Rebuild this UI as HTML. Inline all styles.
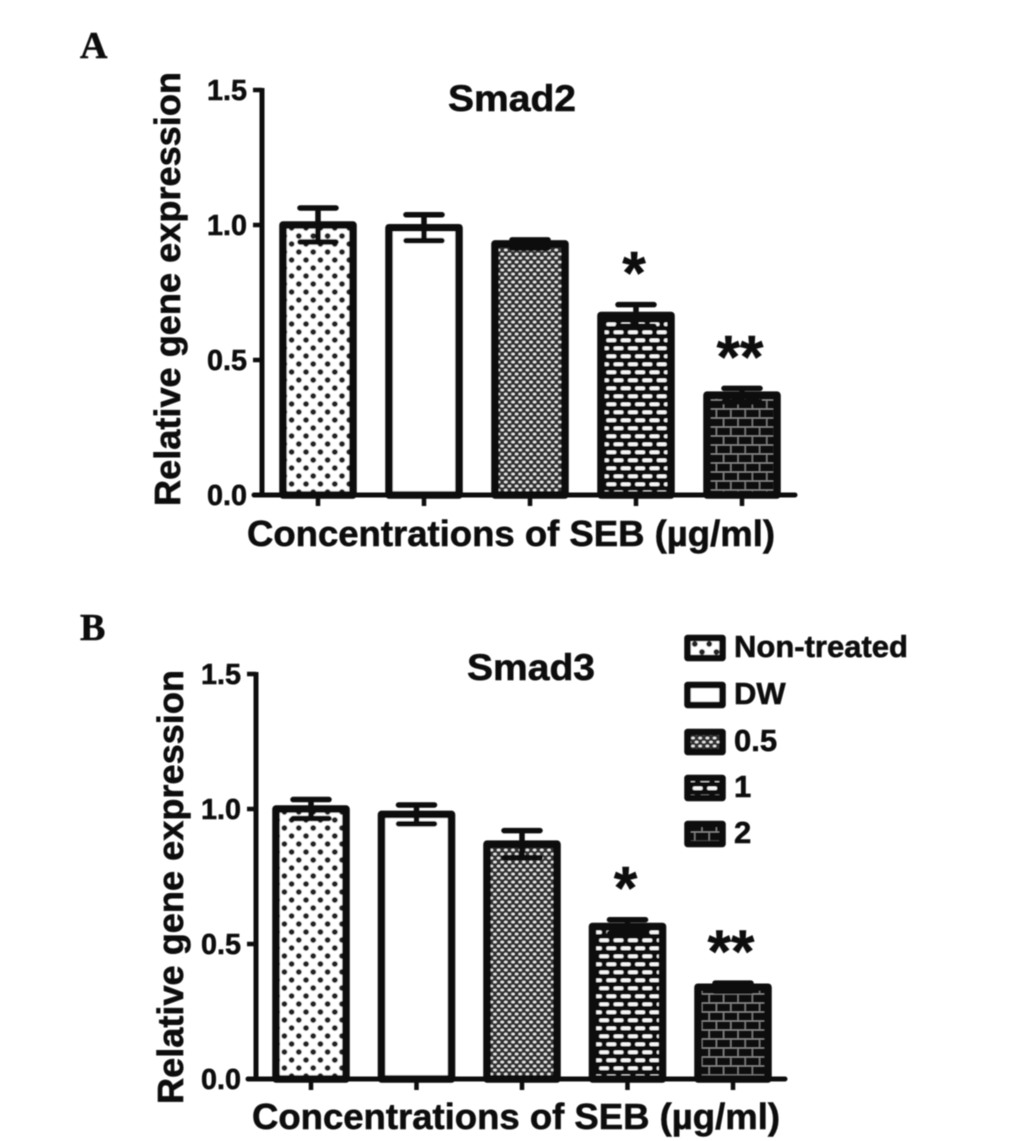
<!DOCTYPE html>
<html>
<head>
<meta charset="utf-8">
<style>
html,body{margin:0;padding:0;background:#fff}
svg{display:block}
text{font-family:"Liberation Sans",sans-serif;font-weight:bold;fill:#0a0a0a;stroke:#0a0a0a;stroke-width:0.55px}
</style>
</head>
<body>
<svg id="chart" xmlns="http://www.w3.org/2000/svg" width="1033" height="1141" viewBox="0 0 1033 1141">
  <defs>
    <filter id="soft" x="-5%" y="-5%" width="110%" height="110%"><feGaussianBlur stdDeviation="0.6"/></filter>
    <pattern id="pat-non-treated" patternUnits="userSpaceOnUse" width="14.4" height="16">
      <rect width="14.4" height="16" fill="#fff"/>
      <circle cx="3.6" cy="4" r="2.9" fill="#222"/><circle cx="10.8" cy="12" r="2.9" fill="#222"/>
    </pattern>
    <pattern id="pat-dw" patternUnits="userSpaceOnUse" width="10" height="10">
      <rect width="10" height="10" fill="#fff"/>
    </pattern>
    <pattern id="pat-half" patternUnits="userSpaceOnUse" width="7.2" height="8">
      <rect width="7.2" height="8" fill="#333"/>
      <ellipse cx="1.8" cy="2" rx="1.8" ry="1.3" fill="#eee"/><ellipse cx="5.4" cy="6" rx="1.8" ry="1.3" fill="#eee"/>
    </pattern>
    <pattern id="pat-one" patternUnits="userSpaceOnUse" width="14.4" height="16">
      <rect width="14.4" height="16" fill="#0a0a0a"/>
      <rect x="1.5" y="2.5" width="10" height="3.6" rx="1.7" fill="#f6f6f6"/>
      <rect x="8.7" y="10.5" width="10" height="3.6" rx="1.7" fill="#f6f6f6"/>
      <rect x="-5.7" y="10.5" width="10" height="3.6" rx="1.7" fill="#f6f6f6"/>
    </pattern>
    <pattern id="pat-two" patternUnits="userSpaceOnUse" width="14.4" height="18">
      <rect width="14.4" height="18" fill="#0c0c0c"/>
      <path d="M0 4H14.4M0 13H14.4M3.6 4V13M10.8 0V4M10.8 13V18" stroke="#8c8c8c" stroke-width="1.2" fill="none"/>
    </pattern>
  </defs>
  <g id="art" filter="url(#soft)"></g>
</svg>
<script>
const groups = ["Non-treated", "DW", "0.5", "1", "2"];
const smad2Values = [1.0, 0.99, 0.93, 0.665, 0.37];
const smad2Errors = [0.063, 0.048, 0.015, 0.04, 0.025];
const smad3Values = [1.0, 0.98, 0.87, 0.565, 0.34];
const smad3Errors = [0.035, 0.035, 0.05, 0.025, 0.015];
const tickLabels = ["0.0", "0.5", "1.0", "1.5"];
const tickValues = [0, 0.5, 1.0, 1.5];
const significance = ["", "", "", "*", "**"];
const patternIds = ["pat-non-treated", "pat-dw", "pat-half", "pat-one", "pat-two"];

const art = document.getElementById('art');
const NS = 'http://www.w3.org/2000/svg';
function make(parent, tag, attrs, txt) {
  const el = document.createElementNS(NS, tag);
  for (const k in attrs) el.setAttribute(k, attrs[k]);
  if (txt !== undefined) el.textContent = txt;
  parent.appendChild(el);
  return el;
}
function drawPanel(cfg, values, errors) {
  const g = make(art, 'g', {});
  
  
  const y = v => cfg.y0 - v * cfg.scale;
  const x = i => cfg.x1 + cfg.step * i;
  const stroke = {stroke: '#0a0a0a', 'stroke-width': 5.5, 'stroke-linecap': 'round', fill: 'none'};

  values.forEach((v, i) => {
    const top = y(v), cx = x(i);
    const bar = make(g, 'rect', {
      x: cx - 35, y: top, width: 70, height: cfg.y0 - top,
      fill: 'url(#' + patternIds[i] + ')', stroke: '#0a0a0a', 'stroke-width': 7.5, 'stroke-linejoin': 'round'
    });
    
    
    const err = make(g, 'path', Object.assign({}, stroke, {
      d: `M${cx - 18} ${y(v + errors[i])}H${cx + 18}M${cx} ${y(v + errors[i])}V${y(v - errors[i])}M${cx - 18} ${y(v - errors[i])}H${cx + 18}`
    }));
    
    
    const tick = make(g, 'line', {x1: cx, x2: cx, y1: cfg.y0, y2: cfg.y0 + 11, stroke: '#0a0a0a', 'stroke-width': 4.5});
    
    
    if (significance[i]) {
      const star = make(g, 'text', {
        x: cx - 2, y: y(v + errors[i]) - cfg.starGap, 'text-anchor': 'middle', 'font-size': 60
      }, significance[i]);
      
      
    }
  });

  const yAxis = make(g, 'line', {x1: cfg.x0, x2: cfg.x0, y1: y(1.5) - 2, y2: cfg.y0 + 2, stroke: '#0a0a0a', 'stroke-width': 5});
  
  
  const xAxis = make(g, 'line', {x1: cfg.x0 - 8, x2: cfg.xEnd, y1: cfg.y0, y2: cfg.y0, stroke: '#0a0a0a', 'stroke-width': 5, 'stroke-linecap': 'round'});
  
  

  tickValues.forEach((t, i) => {
    const tk = make(g, 'line', {x1: cfg.x0 - 9, x2: cfg.x0, y1: y(t), y2: y(t), stroke: '#0a0a0a', 'stroke-width': 4.5});
    
    
    const lb = make(g, 'text', {
      x: cfg.x0 - 15, y: y(t) + 10, 'text-anchor': 'end', 'font-size': 29, textLength: 40, lengthAdjust: 'spacingAndGlyphs'
    }, tickLabels[i]);
    
    
  });

  const title = make(g, 'text', {x: cfg.titleX, y: cfg.titleY, 'text-anchor': 'middle', 'font-size': 37, textLength: 128, lengthAdjust: 'spacingAndGlyphs'}, cfg.title);
  
  

  const xTitle = make(g, 'text', {x: cfg.xTitleX, y: cfg.xTitleY, 'font-size': 36, textLength: 528, lengthAdjust: 'spacingAndGlyphs'}, 'Concentrations of SEB (µg/ml)');
  
  

  const yTitle = make(g, 'text', {
    transform: `translate(${cfg.yTitleX} ${cfg.yTitleY}) rotate(-90)`, 'font-size': 36, textLength: 434, lengthAdjust: 'spacingAndGlyphs'
  }, 'Relative gene expression');
  
  

  const letter = make(g, 'text', {x: 80, y: cfg.letterY, 'font-size': 38, style: 'font-family:"Liberation Serif",serif'}, cfg.letter);
  
  
}

drawPanel({name: 'panel-a-smad2', title: 'Smad2', letter: 'A', letterY: 58, x0: 262, y0: 495, scale: 270, x1: 318, step: 106, xEnd: 795,
  titleX: 512, titleY: 111, xTitleX: 247, xTitleY: 546, yTitleX: 180, yTitleY: 506, starGap: 11}, smad2Values, smad2Errors);
drawPanel({name: 'panel-b-smad3', title: 'Smad3', letter: 'B', letterY: 640, x0: 256, y0: 1079, scale: 270, x1: 311, step: 105.5, xEnd: 785,
  titleX: 531, titleY: 680, xTitleX: 252, xTitleY: 1129, yTitleX: 183, yTitleY: 1104, starGap: 11}, smad3Values, smad3Errors);

const legendRows = [648, 695, 742, 788, 834];
const legend = make(art, 'g', {});


groups.forEach((label, i) => {
  const entry = make(legend, 'g', {});
  
  
  make(entry, 'rect', {x: 687.5, y: legendRows[i] - 10, width: 35, height: 20, fill: 'url(#' + patternIds[i] + ')', stroke: '#0a0a0a', 'stroke-width': 6.5, 'stroke-linejoin': 'round'});
  make(entry, 'text', {x: 734, y: legendRows[i] + 9, 'font-size': 31}, label);
});
</script>
</body>
</html>
